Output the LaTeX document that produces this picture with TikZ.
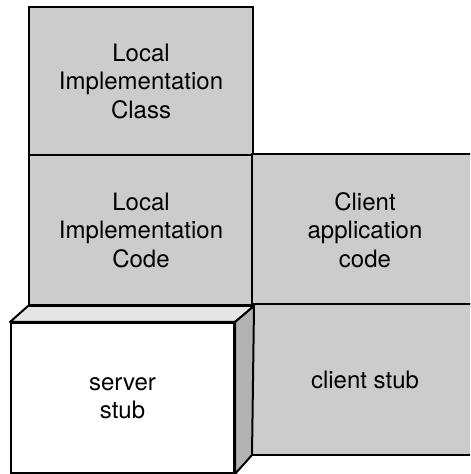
\documentclass[tikz,border=0pt]{standalone}
\usepackage{fontspec}
\setmainfont{TeX Gyre Heros}
\usepackage{tikz}
\usetikzlibrary{positioning,calc}

\definecolor{blockgray}{gray}{0.8}
\definecolor{topgray}{gray}{0.9}
\definecolor{sidegray}{gray}{0.7}

\tikzset{
  layerbox/.style={draw,line width=1pt,fill=blockgray,align=center,inner sep=0pt,
    minimum width=112pt,minimum height=75pt,
    font=\fontsize{12pt}{14.25pt}\selectfont},
  openbox/.style={layerbox,draw=none},
  boxline/.style={draw,line width=1pt},
  stubface/.style={draw,line width=1pt,line join=round}
}

\begin{document}
\begin{tikzpicture}[x=0.5pt,y=0.5pt]
  \useasboundingbox (0,0) rectangle (470,474);
  \clip (0,0) rectangle (470,474);
  % 上段：ローカル実装クラス
  \node[layerbox,minimum height=74pt] (implclass) at (141,393)
    {Local\\Implementation\\Class};
  % 中段：ローカル実装コードとクライアントコード（右端は紙面の外）
  \node[layerbox] (implcode) at (141,244) {Local\\Implementation\\Code};
  \node[openbox] (clientcode) at (365,244) {Client\\application\\code};
  \draw[boxline] (clientcode.north east) -- (clientcode.north west)
    -- (clientcode.south west) -- (clientcode.south east);
  % 下段：クライアントスタブ
  \node[openbox,minimum height=74.5pt] (clientstub) at (365,94.5) {client stub};
  \draw[boxline] (clientstub.north east) -- (clientstub.north west)
    -- (clientstub.south west) -- (clientstub.south east);
  % サーバスタブ（立体の箱）
  \node[layerbox,fill=white,minimum width=111.5pt] (serverstub) at (122.5,76)
    {server\\stub};
  \draw[stubface,fill=topgray] (serverstub.north west) -- (implcode.south west)
    -- (implcode.south east) -- (serverstub.north east) -- cycle;
  \draw[stubface,fill=sidegray] (serverstub.north east) -- (implcode.south east)
    -- (clientstub.south west) -- (serverstub.south east) -- cycle;
\end{tikzpicture}
\end{document}
